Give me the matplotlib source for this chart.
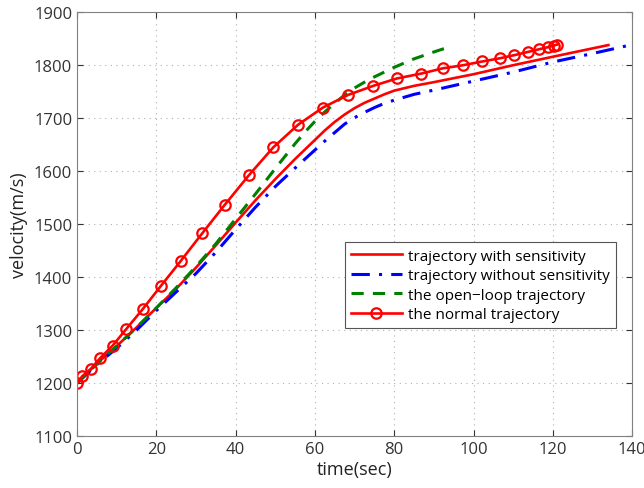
import matplotlib
matplotlib.use("Agg")
import matplotlib.pyplot as plt

plt.rcParams['font.family'] = ['Open Sans', 'DejaVu Sans']

# trajectory with sensitivity (red solid)
t_sens = [0, 5, 10, 15, 20, 25, 30, 35, 40, 45, 50, 55, 57.5, 60, 62.5, 65, 67.5, 70, 72.5,
          75, 77.5, 80, 85, 90, 100, 110, 120, 134]
v_sens = [1200, 1237, 1270, 1305, 1342, 1378, 1418, 1460, 1503, 1545, 1585, 1623, 1641, 1659,
          1677, 1693, 1707, 1719, 1729, 1737, 1745, 1752, 1761, 1768, 1783, 1800, 1816, 1838]

# trajectory without sensitivity (blue dash-dot)
t_nosens = [0, 5, 10, 15, 20, 25, 30, 35, 40, 45, 50, 55, 57.5, 60, 62.5, 65, 67.5, 70, 72.5,
            75, 77.5, 80, 85, 90, 100, 110, 120, 130, 139.5]
v_nosens = [1200, 1235, 1266, 1300, 1337, 1372, 1407, 1447, 1490, 1532, 1571, 1606, 1623, 1640,
            1657, 1673, 1689, 1701, 1711, 1720, 1728, 1734, 1745, 1753, 1770, 1787, 1806, 1822,
            1838]

# open-loop trajectory (green dashed)
t_open = [0, 5, 10, 15, 20, 25, 30, 35, 40, 45, 50, 55, 57.5, 60, 62.5, 65, 67.5, 70, 72.5,
          75, 80, 85, 90, 94.5]
v_open = [1200, 1236, 1270, 1305, 1342, 1380, 1420, 1463, 1510, 1557, 1605, 1652, 1674, 1694,
          1712, 1728, 1744, 1757, 1768, 1778, 1796, 1812, 1825, 1836]

# normal trajectory (red with circles)
t_norm = [0, 1.3, 3.5, 5.8, 9, 12.4, 16.6, 21.1, 26.1, 31.6, 37.2, 43.3, 49.5, 55.8, 62,
          68.4, 74.7, 80.7, 86.7, 92.2, 97.4, 102.2, 106.6, 110.3, 113.7, 116.5, 118.7,
          120.2, 121.1]
v_norm = [1200, 1213, 1227, 1247, 1271, 1302, 1340, 1383, 1430, 1483, 1536, 1592, 1645, 1688,
          1720, 1744, 1761, 1775, 1784, 1794, 1800, 1807, 1813, 1819, 1825, 1830, 1834,
          1837, 1839]

fig = plt.figure(figsize=(6.44, 4.89), dpi=100)
ax = fig.add_axes([0.1196, 0.106, 0.862, 0.867])

ax.plot(t_sens, v_sens, '-', color='#ff0000', lw=1.9, label='trajectory with sensitivity')
ax.plot(t_nosens, v_nosens, '-.', color='#0000ff', lw=2.2, dashes=(6, 3, 1, 3),
        label='trajectory without sensitivity')
ax.plot(t_open, v_open, '--', color='#008000', lw=2.2, dashes=(4, 3),
        label='the open\u2212loop trajectory')
ax.plot(t_norm, v_norm, '-', color='#ff0000', lw=1.9, marker='o', markersize=7.5,
        markerfacecolor='none', markeredgewidth=1.6,
        label='the normal trajectory')

ax.set_xlim(0, 140)
ax.set_ylim(1100, 1900)
ax.set_xticks(range(0, 141, 20))
ax.set_yticks(range(1100, 1901, 100))
ax.grid(True, linestyle=(0, (1, 4)), color='#b0b0b0', lw=0.8)
ax.tick_params(direction='in', top=True, right=True, labelsize=12, colors='#333333',
               length=4)
for sp in ax.spines.values():
    sp.set_color('#808080')

ax.set_xlabel('time(sec)', fontsize=13, color='#222222', labelpad=2)
ax.set_ylabel('velocity(m/s)', fontsize=13, color='#222222', labelpad=4)

leg = ax.legend(loc='lower right', bbox_to_anchor=(0.984, 0.236), fontsize=11,
                handlelength=3.3, fancybox=False, framealpha=1, edgecolor='#555555',
                borderpad=0.4, labelspacing=0.3, handletextpad=0.4)
leg.get_frame().set_linewidth(0.8)

fig.savefig('out.png', dpi=100)
